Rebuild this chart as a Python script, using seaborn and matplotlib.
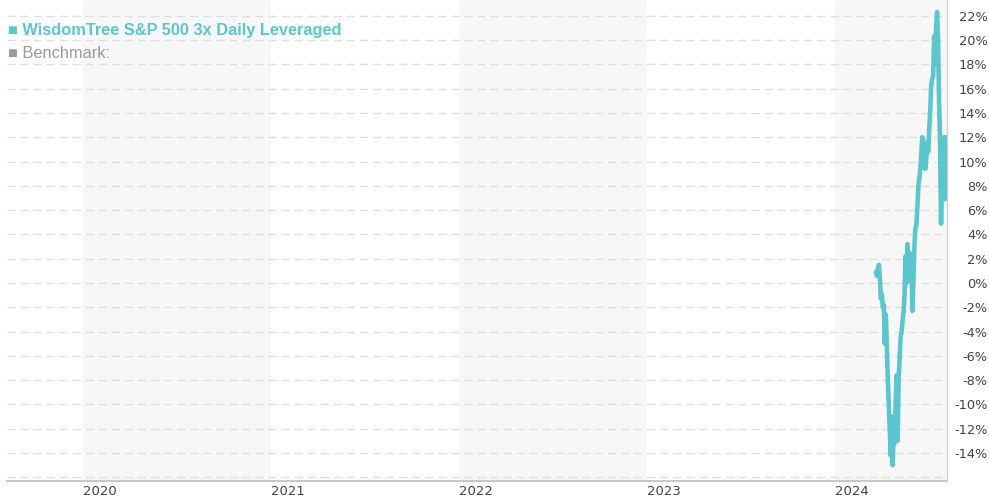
import pandas as pd
import numpy as np
import matplotlib
matplotlib.use('Agg')
import matplotlib.pyplot as plt
import matplotlib.dates as mdates
import seaborn as sns

# --- data ---
series_name = 'WisdomTree S&P 500 3x Daily Leveraged'
benchmark_name = 'Benchmark:'
start_date = '2024-03-20'
end_date = '2024-08-03'
perf = [0.9, 0.6, 1.2, 1.5, 0.4, -1.3, -0.9, -2.0, -1.8, -5.0,
        -2.6, -5.0, -7.8, -10.0, -12.0, -14.2, -11.0, -15.0, -12.0, -13.2,
        -9.8, -7.6, -13.0, -8.0, -6.2, -4.5, -4.0, -3.1, -2.4, -1.0,
        2.2, 0.0, 3.2, 1.0, 2.5, 0.2, 2.0, -2.3, 0.4, 3.0,
        4.5, 4.8, 6.2, 8.0, 8.6, 9.4, 10.6, 12.0, 9.5, 11.0,
        9.4, 10.2, 11.6, 10.8, 12.6, 14.1, 16.2, 16.8, 17.0, 20.3,
        18.0, 21.0, 22.3, 20.0, 15.0, 11.8, 4.9, 9.0, 7.0, 12.0,
        6.9, 12.0]
years = [2020, 2021, 2022, 2023, 2024]
shaded_years = [2020, 2022, 2024]
y_ticks = list(range(-16, 23, 2))
x_start, x_end = '2019-08-07', '2024-08-05'

LINE = '#5bc6cd'
GREY_TXT = '#444444'

df = pd.DataFrame({
    'date': pd.date_range(start_date, end_date, periods=len(perf)),
    'perf': perf,
})

sns.set_style('white')
plt.rcParams['font.family'] = ['DejaVu Sans']

fig = plt.figure(figsize=(9.89, 5.0), dpi=100)
ax = fig.add_axes([7 / 989, 19 / 500, 940 / 989, 481 / 500])

xmin, xmax = pd.Timestamp(x_start), pd.Timestamp(x_end)
for yr in shaded_years:
    a = max(pd.Timestamp(f'{yr}-01-01'), xmin)
    b = min(pd.Timestamp(f'{yr + 1}-01-01'), xmax)
    ax.axvspan(a, b, color='#f7f7f7', lw=0, zorder=0)

sns.lineplot(data=df, x='date', y='perf', ax=ax, color=LINE, lw=3.3, zorder=3)

ax.set_xlim(xmin, xmax)
ax.set_ylim(-16.3, 23.3)
ax.set_xlabel('')
ax.set_ylabel('')

# y axis on the right, right-aligned percent labels
ax.yaxis.tick_right()
ax.set_yticks(y_ticks)
ax.set_yticklabels(['' if v == -16 else f'{v}%' for v in y_ticks])
ax.tick_params(axis='y', length=0, pad=29, labelsize=9.3, labelcolor=GREY_TXT)
for lab in ax.get_yticklabels():
    lab.set_ha('right')
ax.yaxis.grid(True, linestyle=(0, (5.8, 3.6)), color='#dedede', lw=1, zorder=1)
ax.xaxis.grid(False)

ax.set_xticks([pd.Timestamp(f'{y}-01-01') for y in years])
ax.xaxis.set_major_formatter(mdates.DateFormatter('%Y'))
ax.tick_params(axis='x', length=0, pad=3, labelsize=9.5, labelcolor=GREY_TXT)
for lab in ax.get_xticklabels():
    lab.set_ha('left')

for s in ['top', 'left']:
    ax.spines[s].set_visible(False)
ax.spines['right'].set_color('#d0d0d0')
ax.spines['right'].set_linewidth(1)
ax.spines['bottom'].set_color('#c8c8c8')
ax.spines['bottom'].set_linewidth(1.5)

# legend-like labels at the top left
fig.text(8 / 989, 1 - 30 / 500, '\u25a0 ' + series_name, color=LINE, fontsize=11.8,
         fontweight='bold', va='center', ha='left', family=['Liberation Sans', 'DejaVu Sans'])
fig.text(8 / 989, 1 - 53 / 500, '\u25a0 ' + benchmark_name, color='#9a9a9a', fontsize=11.8,
         va='center', ha='left', family=['Liberation Sans', 'DejaVu Sans'])

fig.savefig('out.png', dpi=100)
plt.close(fig)
